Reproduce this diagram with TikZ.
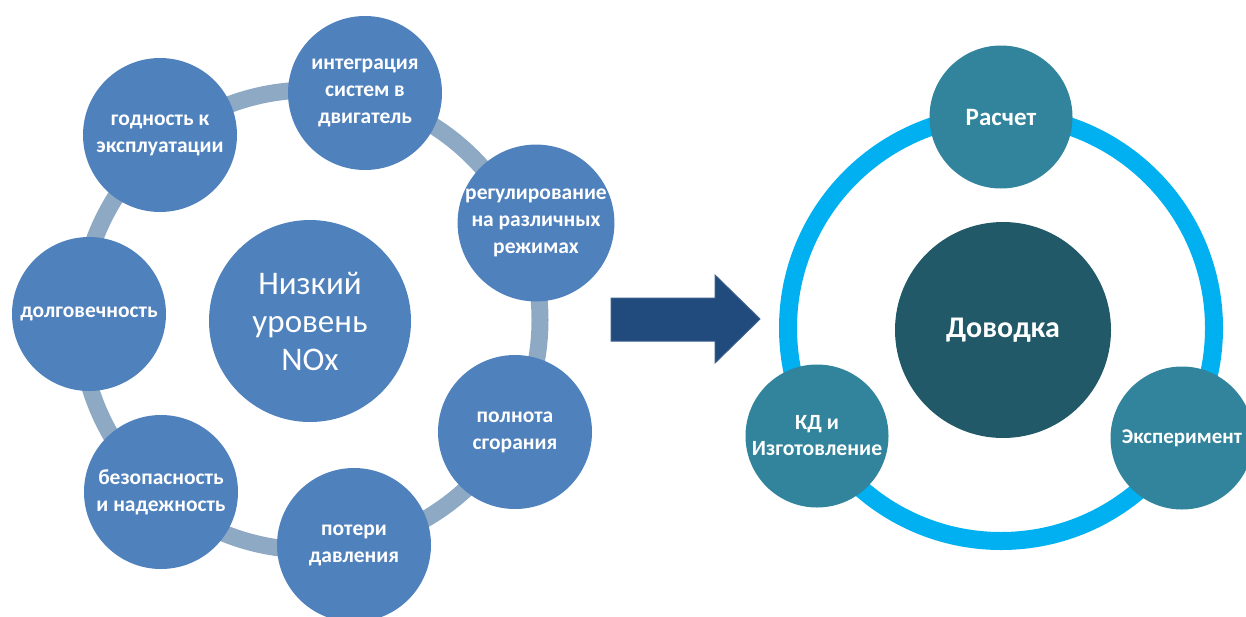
\documentclass[tikz,border=0pt]{standalone}
\usepackage{fontspec}
\setmainfont{Carlito}
\definecolor{nodeblue}{HTML}{4F81BD}
\definecolor{ringgrey}{HTML}{8DA9C4}
\definecolor{arrowblue}{HTML}{214A7D}
\definecolor{arrowedge}{HTML}{3A5F8F}
\definecolor{tealnode}{HTML}{31849B}
\definecolor{darkteal}{HTML}{215968}
\definecolor{cyanring}{HTML}{00B0F0}
\begin{document}
\begin{tikzpicture}[x=1pt,y=-1pt,
  sat/.style={circle,fill=nodeblue,minimum size=154pt,inner sep=0pt,text=white,
    font=\bfseries\fontsize{21.5}{27}\selectfont,align=center},
  hubL/.style={circle,fill=nodeblue,minimum size=202pt,inner sep=0pt,text=white,
    font=\fontsize{33}{38}\selectfont,align=center},
  satR/.style={circle,fill=tealnode,minimum size=143pt,inner sep=0pt,text=white,
    font=\bfseries\fontsize{21.7}{26}\selectfont,align=center},
  hubR/.style={circle,fill=darkteal,minimum size=216pt,inner sep=0pt,text=white,
    font=\bfseries\fontsize{30}{36}\selectfont,align=center},
  ringL/.style={draw=ringgrey,line width=17pt},
  ringR/.style={draw=cyanring,line width=18pt},
  bigarrow/.style={fill=arrowblue,draw=arrowedge,line width=1pt}
]
\useasboundingbox (0,0) rectangle (1246,616);
\clip (0,0) rectangle (1246,616);
% left cycle
\draw[ringL] (310,320) circle[radius=230];
\node[hubL] (nox) at (310,321) {Низкий\\уровень\\NOx};
\node[sat] (integ) at (365,93) {интеграция\\систем в\\двигатель};
\node[sat] (regul) at (536,223) {регулирование\\на различных\\режимах};
\node[sat] (poln) at (515,432) {полнота\\сгорания};
\node[sat] (poteri) at (354,545) {потери\\давления};
\node[sat] (bezop) at (161,492) {безопасность\\и надежность};
\node[sat] (dolg) at (89,314) {долговечность};
\node[sat] (godn) at (160,135) {годность к\\эксплуатации};
% arrow
\draw[bigarrow] (611,298) -- (715,298) -- (715,275) -- (760,319) -- (715,363) -- (715,341) -- (611,341) -- cycle;
% right cycle
\draw[ringR] (1001,328) circle[radius=213];
\node[hubR] (dov) at (1003,330) {Доводка};
\node[satR,font=\bfseries\fontsize{25}{30}\selectfont] (calc) at (1001,117) {Расчет};
\node[satR] (kd) at (817,436) {КД и\\Изготовление};
\node[satR,font=\bfseries\fontsize{21}{26}\selectfont] (exper) at (1182,438) {Эксперимент};
\end{tikzpicture}
\end{document}
